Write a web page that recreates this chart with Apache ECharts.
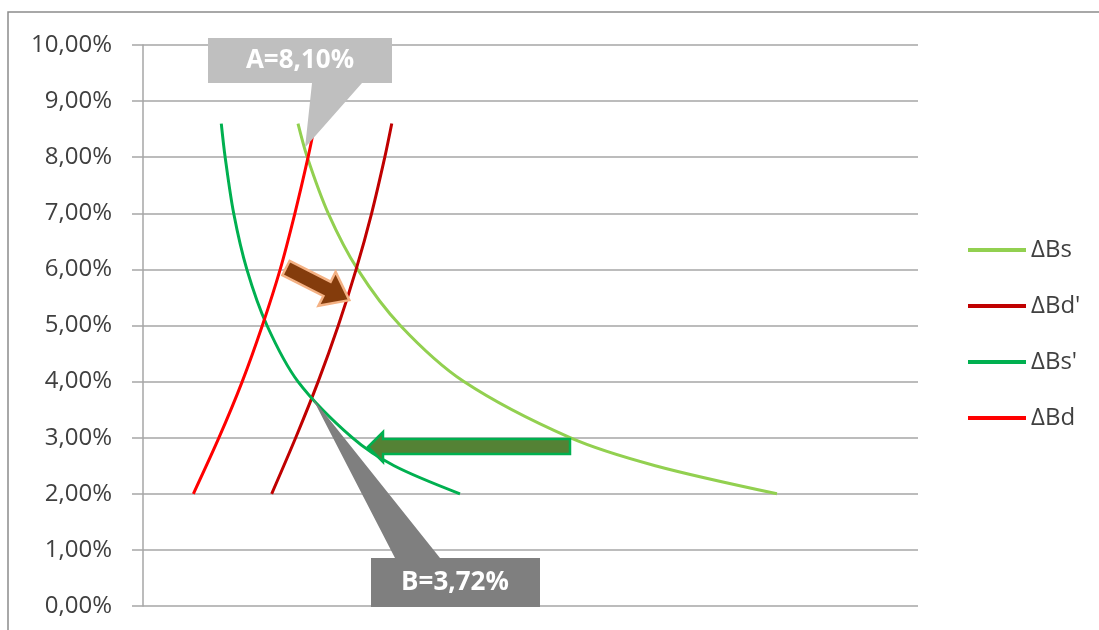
<!DOCTYPE html>
<html>
<head>
<meta charset="utf-8">
<script src="https://cdn.jsdelivr.net/npm/echarts@6/dist/echarts.min.js"></script>
<style>
  html, body { margin: 0; padding: 0; background: #fff; }
  #chart { width: 1099px; height: 630px; }
</style>
</head>
<body>
<div id="chart"></div>
<script>
// y values are in percent, x is a hidden helper scale (0..100)
var bsX  = [20.0, 21.2, 23.9, 27.7, 33.2, 41.4, 55.1, 66.1, 81.8];
var bsY  = [8.6, 8.0, 7.0, 6.0, 5.0, 4.0, 3.0, 2.5, 2.0];

var bd2X = [16.6, 19.7, 22.6, 25.2, 27.5, 29.5, 31.2, 32.1];
var bd2Y = [2.0, 3.0, 4.0, 5.0, 6.0, 7.0, 8.0, 8.6];

var bs2X = [10.1, 10.6, 11.7, 13.4, 16.0, 20.0, 27.0, 32.4, 40.9];
var bs2Y = [8.6, 8.0, 7.0, 6.0, 5.0, 4.0, 3.0, 2.5, 2.0];

var bdX  = [6.5, 9.8, 12.8, 15.4, 17.7, 19.6, 21.3, 22.2];
var bdY  = [2.0, 3.0, 4.0, 5.0, 6.0, 7.0, 8.0, 8.6];

var seriesNames = ['ΔBs', "ΔBd'", "ΔBs'", 'ΔBd'];
var seriesColors = ['#92d050', '#c00000', '#00b050', '#ff0000'];

// intersection points for the callouts
var pointA = [21.3, 8.1];
var pointB = [22.0, 3.72];
var labelA = 'A=8,10%';
var labelB = 'B=3,72%';

function pairs(xs, ys) {
    var out = [];
    for (var i = 0; i < xs.length; i++) out.push([xs[i], ys[i]]);
    return out;
}

var allData = [pairs(bsX, bsY), pairs(bd2X, bd2Y), pairs(bs2X, bs2Y), pairs(bdX, bdY)];
var font = '"Open Sans", "Noto Sans", sans-serif';

var chart = echarts.init(document.getElementById('chart'));
chart.setOption({
    animation: false,
    backgroundColor: '#fff',
    grid: { left: 143, right: 181, top: 45, bottom: 24 },
    legend: {
        orient: 'vertical',
        left: 963,
        top: 233,
        itemWidth: 58,
        itemHeight: 4,
        itemGap: 32,
        icon: 'rect',
        textStyle: { fontFamily: font, fontSize: 24, color: '#404040' },
        data: seriesNames
    },
    xAxis: {
        type: 'value', min: 0, max: 100, show: false
    },
    yAxis: {
        type: 'value', min: 0, max: 10, interval: 1,
        axisLine: { show: true, lineStyle: { color: '#a6a6a6', width: 1.5 } },
        axisTick: { show: true, length: 11, lineStyle: { color: '#a6a6a6', width: 1.5 } },
        splitLine: { lineStyle: { color: '#a6a6a6', width: 1.5 } },
        axisLabel: {
            margin: 31, fontFamily: font, fontSize: 24, color: '#404040',
            formatter: function (v) { return v.toFixed(2).replace('.', ',') + '%'; }
        }
    },
    series: allData.map(function (d, i) {
        return {
            name: seriesNames[i],
            type: 'line',
            data: d,
            smooth: 0.3,
            showSymbol: false,
            symbol: 'none',
            color: seriesColors[i],
            lineStyle: { width: 3, color: seriesColors[i] }
        };
    })
});

var a = chart.convertToPixel({ gridIndex: 0 }, pointA);
var b = chart.convertToPixel({ gridIndex: 0 }, pointB);

chart.setOption({
    graphic: [
        {   // outer frame
            type: 'rect', z: 1, silent: true,
            shape: { x: 8, y: 12, width: 1200, height: 700 },
            style: { fill: 'none', stroke: '#8c8c8c', lineWidth: 1.5 }
        },
        {   // callout A
            type: 'polygon', z: 100,
            shape: { points: [[208, 38], [392, 38], [392, 83], [362, 83], [a[0] - 3, a[1] - 4], [312, 83], [208, 83]] },
            style: { fill: '#bfbfbf' }
        },
        {
            type: 'text', z: 101, x: 300, y: 61,
            style: { text: labelA, fill: '#fff', font: 'bold 26px ' + font, align: 'center', verticalAlign: 'middle' }
        },
        {   // callout B
            type: 'polygon', z: 100,
            shape: { points: [[371, 558], [395, 558], [b[0] - 1, b[1] + 1], [440, 558], [540, 558], [540, 607], [371, 607]] },
            style: { fill: '#7f7f7f' }
        },
        {
            type: 'text', z: 101, x: 455, y: 583,
            style: { text: labelB, fill: '#fff', font: 'bold 26px ' + font, align: 'center', verticalAlign: 'middle' }
        },
        {   // brown shift arrow
            type: 'polygon', z: 90, x: 286, y: 268, rotation: -0.47,
            shape: { points: [[0, -8], [46, -8], [46, -19], [71, 0], [46, 19], [46, 8], [0, 8]] },
            style: { fill: '#843c0c', stroke: '#f4b183', lineWidth: 2.5 }
        },
        {   // green shift arrow
            type: 'polygon', z: 90,
            shape: { points: [[368, 447], [383, 432], [383, 439], [570, 439], [570, 454], [383, 454], [383, 462]] },
            style: { fill: '#548235', stroke: '#00b050', lineWidth: 2.5 }
        }
    ]
});
</script>
</body>
</html>
